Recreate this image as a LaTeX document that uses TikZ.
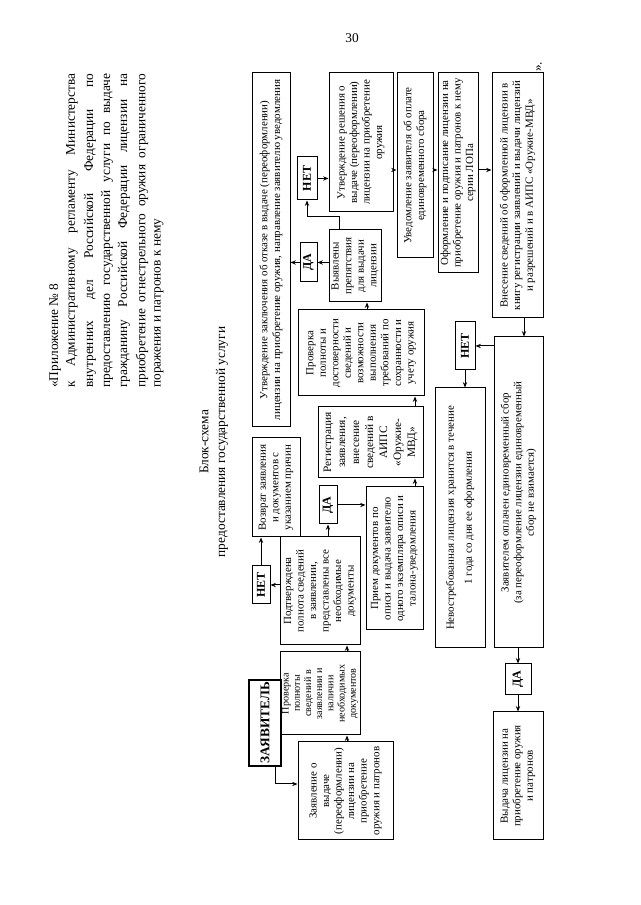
\documentclass[tikz,border=0pt]{standalone}
\usepackage{fontspec}
\setmainfont{Liberation Serif}
\usetikzlibrary{arrows.meta}
\begin{document}
\begin{tikzpicture}[x=0.75pt,y=0.75pt,
  bx/.style n args={4}{draw, line width=0.75pt, rotate=90, inner sep=0pt, align=center,
     font=\fontsize{8.2}{9.4}\selectfont,
     minimum width={(#4-#3)*0.75pt}, minimum height={(#2-#1)*0.75pt},
     at={({(#1+#2)/2},{905-(#3+#4)/2})}},
  yn/.style={font=\bfseries\fontsize{9}{10}\selectfont},
  arr/.style={-{Stealth[length=4pt,width=3.2pt]}, line width=0.75pt},
  hdr/.style={rotate=90, anchor=west, inner sep=0pt, font=\fontsize{10}{12}\selectfont},
  ttl/.style={rotate=90, inner sep=0pt, font=\fontsize{10}{12}\selectfont}
]
\fill[white] (0,0) rectangle (640,905);
\useasboundingbox (0,0) rectangle (640,905);

% page number
\node[font=\fontsize{10}{12}\selectfont] (pg) at (352,867) {30};

% header
\node[hdr] (h1) at (55,517) {«Приложение № 8};
\node[hdr] (h2) at (72,517) {\makebox[235.5pt][s]{к Административному регламенту Министерства}};
\node[hdr] (h3) at (90,517) {\makebox[235.5pt][s]{внутренних дел Российской Федерации по}};
\node[hdr] (h4) at (107,517) {\makebox[235.5pt][s]{предоставлению государственной услуги по выдаче}};
\node[hdr] (h5) at (124,517) {\makebox[235.5pt][s]{гражданину Российской Федерации лицензии на}};
\node[hdr] (h6) at (142,517) {\makebox[235.5pt][s]{приобретение огнестрельного оружия ограниченного}};
\node[hdr] (h7) at (159,517) {поражения и патронов к нему};

% title
\node[ttl] (t1) at (204,463) {Блок-схема};
\node[ttl] (t2) at (222,463) {предоставления государственной услуги};

% boxes
\node[bx={249}{281}{680}{766}, line width=1.3pt, font=\bfseries\fontsize{10}{12}\selectfont] (b1) {ЗАЯВИТЕЛЬ};
\node[bx={298}{393}{742}{840}] (b2) {Заявление о\\выдаче\\(переоформлении)\\лицензии на\\приобретение\\оружия и патронов};
\node[bx={280}{360}{652}{735}, font=\fontsize{7.6}{8.4}\selectfont] (b3) {Проверка\\полноты\\сведений в\\заявлении и\\наличии\\необходимых\\документов};
\node[bx={280}{360}{537}{645}] (b4) {Подтверждена\\полнота сведений\\в заявлении,\\представлены все\\необходимые\\документы};
\node[bx={252}{270}{566}{604}, yn] (b5) {НЕТ};
\node[bx={252}{300}{438}{537}] (b6) {Возврат заявления\\и документов с\\указанием причин};
\node[bx={319}{337}{486}{524}, yn] (b7) {ДА};
\node[bx={366}{423}{487}{630}] (b8) {Прием документов по\\описи и выдача заявителю\\одного экземпляра описи и\\талона-уведомления};
\node[bx={318}{423}{407}{478}, font=\fontsize{8.5}{10.5}\selectfont] (b9) {Регистрация\\заявления,\\внесение\\сведений в\\АИПС\\«Оружие-\\МВД»};
\node[bx={298}{424}{310}{396}] (b10) {Проверка\\полноты и\\достоверности\\сведений и\\возможности\\выполнения\\требований по\\сохранности и\\учету оружия};
\node[bx={329}{381}{230}{302}] (b11) {Выявлены\\препятствия\\для выдачи\\лицензии};
\node[bx={300}{317}{243}{282}, yn] (b12) {ДА};
\node[bx={252}{290}{73}{427}] (b13) {Утверждение заключения об отказе в выдаче (переоформлении)\\лицензии на приобретение оружия, направление заявителю уведомления};
\node[bx={297}{317}{157}{200}, yn] (b14) {НЕТ};
\node[bx={329}{393}{73}{212}] (b15) {Утверждение решения о\\выдаче (переоформлении)\\лицензии на приобретение\\оружия};
\node[bx={397}{433}{73}{258}] (b16) {Уведомление заявителя об оплате\\единовременного сбора};
\node[bx={438}{478}{73}{273}] (b17) {Оформление и подписание лицензии на\\приобретение оружия и патронов к нему\\серии ЛОПа};
\node[bx={492}{543}{73}{318}] (b18) {Внесение сведений об оформленной лицензии в\\книгу регистрации заявлений и выдачи лицензий\\и разрешений и в АИПС «Оружие-МВД»};
\node[bx={494}{543}{337}{648}] (b19) {Заявителем оплачен единовременный сбор\\(за переоформление лицензии единовременный\\сбор не взимается)};
\node[bx={455}{475}{322}{370}, yn] (b20) {НЕТ};
\node[bx={435}{485}{388}{648}, font=\fontsize{8.2}{13.5}\selectfont] (b21) {Невостребованная лицензия хранится в течение\\1 года со дня ее оформления};
\node[bx={505}{531}{664}{695}, yn] (b22) {ДА};
\node[bx={493}{543}{712}{840}] (b23) {Выдача лицензии на\\приобретение оружия\\и патронов};

\node[rotate=90, anchor=west, inner sep=0pt, font=\fontsize{10}{12}\selectfont] (q) at (539,833) {».};

% connectors
\draw[arr] (275,0 |- b1.west) |- (b2.north |- 0,121);
\draw[arr] (347,0 |- b2.east) -- (347,0 |- b3.west);
\draw[arr] (347,0 |- b3.east) -- (347,0 |- b4.west);
\draw[arr] (b4.north |- b5.south) -- (b5.south);
\draw[arr] (b5.east) -- (b5.east |- b6.west);
\draw[arr] (b7.west |- b4.east) -- (b7.west);
\draw[arr] (b7.south) -- (b8.north |- b7.south);
\draw[arr] (415,0 |- b8.east) -- (415,0 |- b9.west);
\draw[arr] (415,0 |- b9.east) -- (415,0 |- b10.west);
\draw[arr] (367,0 |- b10.east) -- (367,0 |- b11.west);
\draw[arr] (b11.north |- b12.south) -- (b12.south);
\draw[arr] (b12.north) -- (b13.south |- b12.north);
\draw[arr] (339,0 |- b11.east) -- (339,688) -| (b14.west);
\draw[arr] (b14.south) -- (b15.north |- b14.south);
\draw[arr] (b15.south |- 0,735) -- (b16.north |- 0,735);
\draw[arr] (b16.south |- 0,735) -- (b17.north |- 0,735);
\draw[arr] (b17.south |- 0,735) -- (b18.north |- 0,735);
\draw[arr] (524,0 |- b18.west) -- (524,0 |- b19.east);
\draw[arr] (b19.north |- b20.south) -- (b20.south);
\draw[arr] (b20.west) -- (b20.west |- b21.east);
\draw[arr] (518,0 |- b19.west) -- (518,0 |- b22.east);
\draw[arr] (b22.west) -- (b22.west |- b23.east);
\end{tikzpicture}
\end{document}
